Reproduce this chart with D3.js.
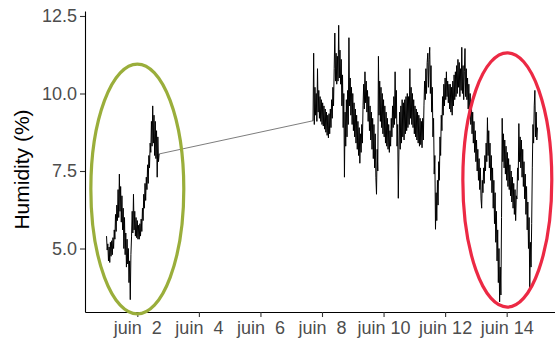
<!DOCTYPE html>
<html>
<head>
<meta charset="utf-8">
<script src="https://cdn.jsdelivr.net/npm/d3@7"></script>
<style>
  body { margin: 0; background: #fff; }
  text { font-family: "Liberation Sans", Arial, sans-serif; }
</style>
</head>
<body>
<svg id="chart" width="555" height="347"></svg>
<script>
// Humidity readings, one every 30 minutes, in two recording periods
const stepMinutes = 30;
const period1Start = new Date(2021, 5, 1, 0, 0);
const period1Humidity = [
  5.40,4.95,5.15,4.60,5.05,4.55,5.20,4.75,5.25,4.80,
  5.35,5.00,5.60,5.30,6.10,5.55,6.40,5.90,6.90,6.00,
  7.40,6.20,7.00,5.85,6.70,5.60,6.30,5.00,6.00,4.80,
  5.50,4.40,5.30,4.50,5.00,3.90,4.60,3.35,4.80,5.40,
  6.20,5.50,6.75,5.60,6.20,5.40,6.00,5.35,5.90,5.30,
  5.75,5.30,5.80,5.40,5.95,5.55,6.30,5.90,6.75,6.30,
  7.10,6.55,7.30,6.90,7.70,7.10,8.00,7.60,8.40,8.10,
  9.10,8.30,9.60,8.40,9.30,8.00,9.10,7.90,8.80,7.30,
  8.60,7.80,8.05
];
const period2Start = new Date(2021, 5, 7, 17, 0);
const period2Humidity = [
  9.12,11.30,9.00,10.20,9.30,10.00,9.10,10.80,9.40,10.10,
  9.20,9.90,9.10,9.80,9.00,9.70,8.95,9.60,8.85,9.50,
  8.75,9.40,8.65,9.30,8.57,9.35,8.70,9.50,8.90,9.80,
  9.20,10.20,9.60,10.80,11.95,10.40,11.30,10.30,11.20,10.40,
  12.20,10.50,11.40,10.30,11.10,9.60,10.60,8.90,10.00,7.30,
  9.40,8.30,9.80,8.60,10.10,9.00,11.80,9.60,10.50,9.30,
  10.20,9.00,10.00,8.80,9.70,8.60,9.50,8.40,9.30,8.20,
  9.10,8.00,8.90,7.75,8.70,8.10,9.00,8.40,9.60,10.30,
  9.50,10.70,9.70,10.40,9.40,10.10,9.10,9.90,8.80,9.60,
  8.50,9.40,8.20,9.20,7.90,9.00,7.60,8.70,7.30,6.75,
  8.20,7.50,11.20,9.30,10.40,9.10,10.20,8.90,10.00,8.70,
  9.80,8.60,9.60,8.40,9.40,8.30,9.20,8.20,9.00,8.10,
  8.80,8.30,9.20,8.60,9.60,8.90,9.90,9.00,10.70,9.20,
  10.10,8.30,9.00,6.62,8.20,9.40,8.20,9.60,8.40,9.80,
  8.60,9.70,8.50,9.80,8.70,9.90,8.80,10.00,8.90,9.90,
  9.00,10.80,9.20,10.20,9.00,10.00,8.90,9.80,8.70,9.60,
  8.60,9.50,8.50,9.40,8.40,9.30,8.30,9.20,8.35,9.10,
  8.25,9.20,8.50,9.60,10.40,9.80,10.80,10.00,11.00,11.30,
  10.20,11.10,11.49,10.00,10.90,9.40,10.20,8.60,9.20,7.40,
  8.00,5.62,6.80,5.90,7.20,6.40,7.80,7.20,8.60,8.00,
  9.30,8.80,9.90,9.30,10.30,9.60,10.50,9.80,10.70,9.90,
  10.40,9.70,10.30,9.50,10.30,9.40,10.20,9.30,10.40,9.60,
  10.60,9.80,10.70,9.90,10.90,10.00,11.10,10.20,11.00,9.90,
  10.80,10.10,11.49,10.00,10.90,9.80,10.70,11.45,9.90,10.80,
  9.80,10.50,9.50,10.30,9.30,10.00,9.00,9.70,8.70,9.40,
  8.40,9.10,8.10,8.80,7.80,8.50,7.50,8.20,7.20,7.90,
  6.90,7.60,6.60,6.30,7.20,6.80,7.60,7.10,8.00,7.50,
  8.40,7.80,9.22,8.00,8.80,7.60,8.40,7.20,8.00,6.80,
  7.60,6.30,7.20,5.80,6.80,5.20,6.20,4.60,5.60,3.90,
  5.00,3.28,4.40,3.50,6.00,9.20,7.80,8.70,7.60,8.50,
  7.40,8.30,7.20,8.10,7.00,7.90,6.90,7.70,6.70,7.50,
  6.50,7.30,6.30,7.10,6.10,6.90,5.90,6.70,6.60,7.60,
  7.20,9.03,7.80,8.60,7.60,8.50,7.30,8.20,7.00,7.80,
  6.60,7.40,6.10,7.00,5.60,6.50,5.00,6.00,3.70,5.20,
  4.40,5.80,7.60,9.00,8.40,9.60,10.10,8.60,9.40,8.50,
  8.90
];

// Axis ticks
const yTicks = [5.0, 7.5, 10.0, 12.5];
const xTickDates = [2, 4, 6, 8, 10, 12, 14].map(d => new Date(2021, 5, d));
const xTickLabels = ["juin  2", "juin  4", "juin  6", "juin  8", "juin 10", "juin 12", "juin 14"];

// Highlighted periods (centre time/value and half-extents in days / humidity units)
const highlights = [
  { center: new Date(2021, 5, 2, 0, 0), value: 6.92, halfDays: 1.51, halfValue: 4.03, color: "#9aae3b" },
  { center: new Date(2021, 5, 14, 0, 30), value: 7.21, halfDays: 1.445, halfValue: 4.10, color: "#ec2944" }
];

// Build the time series, one list per recording period
const toPoints = (start, values) => values.map((v, i) => ({
  t: new Date(start.getTime() + i * stepMinutes * 60000), v
}));
const periods = [toPoints(period1Start, period1Humidity), toPoints(period2Start, period2Humidity)];
// straight joins across the gaps between periods
const joins = d3.pairs(periods).map(([a, b]) => [a[a.length - 1], b[0]]);

const svg = d3.select("#chart");
const plot = { left: 85, right: 559, top: 11, bottom: 312 };

const x = d3.scaleTime()
  .domain([new Date(2021, 4, 31, 7, 12), new Date(2021, 5, 15, 16, 48)])
  .range([plot.left, plot.right]);
const y = d3.scaleLinear()
  .domain([2.952, 12.661])
  .range([plot.bottom, plot.top]);

const line = d3.line().x(d => x(d.t)).y(d => y(d.v));

// Gap joins (thin)
svg.selectAll("path.join")
  .data(joins)
  .join("path")
  .attr("class", "join")
  .attr("d", line)
  .attr("fill", "none")
  .attr("stroke", "#6e6e6e")
  .attr("stroke-width", 0.9);

// Humidity trace
svg.selectAll("path.trace")
  .data(periods)
  .join("path")
  .attr("class", "trace")
  .attr("d", line)
  .attr("fill", "none")
  .attr("stroke", "#000")
  .attr("stroke-width", 1.0)
  .attr("stroke-linejoin", "miter");

// Y axis
const yAxis = svg.append("g")
  .attr("transform", `translate(${plot.left},0)`)
  .call(d3.axisLeft(y).tickValues(yTicks).tickFormat(d3.format(".1f")).tickSize(5).tickSizeOuter(0).tickPadding(3));
// X axis
const xAxis = svg.append("g")
  .attr("transform", `translate(0,${plot.bottom})`)
  .call(d3.axisBottom(x).tickValues(xTickDates).tickFormat((d, i) => xTickLabels[i]).tickSize(5).tickSizeOuter(0).tickPadding(4));

[yAxis, xAxis].forEach(g => {
  g.select(".domain").attr("stroke", "#000").attr("stroke-width", 1.1);
  g.selectAll(".tick line").attr("stroke", "#333").attr("stroke-width", 1.1);
  g.selectAll(".tick text")
    .attr("fill", "#4d4d4d")
    .style("font-size", "18px")
    .style("font-family", '"Liberation Sans", Arial, sans-serif')
    .style("white-space", "pre");
});

// Y axis title
svg.append("text")
  .attr("transform", `translate(29,${(plot.top + plot.bottom) / 2 + 8}) rotate(-90)`)
  .attr("text-anchor", "middle")
  .style("font-size", "21px")
  .attr("fill", "#000")
  .text("Humidity (%)");

// Highlight ellipses
svg.selectAll("ellipse.highlight")
  .data(highlights)
  .join("ellipse")
  .attr("class", "highlight")
  .attr("cx", d => x(d.center))
  .attr("cy", d => y(d.value))
  .attr("rx", d => x(new Date(d.center.getTime() + d.halfDays * 864e5)) - x(d.center))
  .attr("ry", d => y(d.value - d.halfValue) - y(d.value))
  .attr("fill", "none")
  .attr("stroke", d => d.color)
  .attr("stroke-width", 3.2);
</script>
</body>
</html>
